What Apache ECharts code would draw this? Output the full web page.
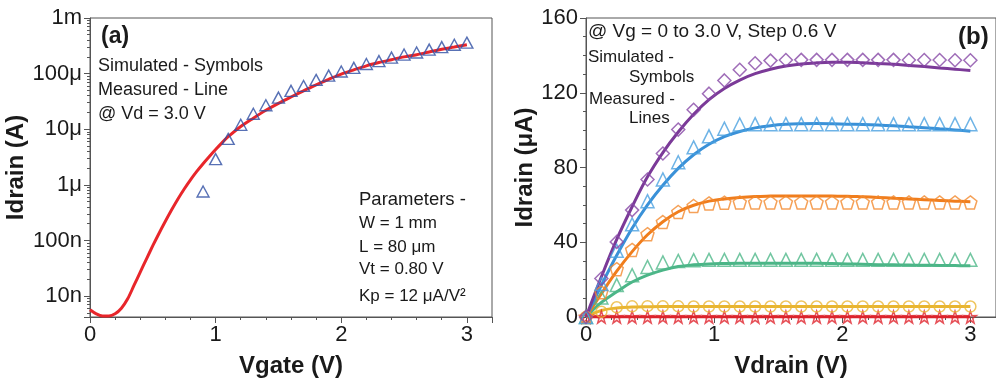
<!DOCTYPE html>
<html>
<head>
<meta charset="utf-8">
<title>Idrain characteristics</title>
<script src="https://cdn.jsdelivr.net/npm/echarts@6/dist/echarts.min.js"></script>
<style>
  html, body { margin: 0; padding: 0; background: #fff; }
  #chart { width: 996px; height: 383px; }
</style>
</head>
<body>
<div id="chart"></div>
<script>
// ---- (a) transfer curve, Vd = 3.0 V ----
const vgateMeasured = [0, 0.05, 0.1, 0.15, 0.2, 0.25, 0.3, 0.35, 0.4, 0.45, 0.5, 0.55, 0.6, 0.65, 0.7,
  0.75, 0.8, 0.85, 0.9, 0.95, 1.0, 1.05, 1.1, 1.2, 1.3, 1.4, 1.5, 1.6, 1.7, 1.8, 1.9, 2.0, 2.1, 2.2, 2.3,
  2.4, 2.5, 2.6, 2.7, 2.8, 2.9, 3.0];
const idrainMeasured = [5.69e-9, 4.79e-9, 4.37e-9, 4.37e-9, 4.79e-9, 6.03e-9, 8.91e-9, 1.55e-8, 2.69e-8,
  4.68e-8, 8.04e-8, 1.35e-7, 2.21e-7, 3.55e-7, 5.56e-7, 8.41e-7, 1.23e-6, 1.74e-6, 2.40e-6, 3.24e-6,
  4.32e-6, 5.69e-6, 7.33e-6, 1.12e-5, 1.58e-5, 2.19e-5, 2.92e-5, 3.8e-5, 4.9e-5, 6.3e-5, 7.9e-5, 9.8e-5,
  1.17e-4, 1.38e-4, 1.58e-4, 1.78e-4, 2.0e-4, 2.19e-4, 2.45e-4, 2.75e-4, 3.0e-4, 3.3e-4];
const vgateSimulated = [0.9, 1.0, 1.1, 1.2, 1.3, 1.4, 1.5, 1.6, 1.7, 1.8, 1.9, 2.0, 2.1, 2.2, 2.3, 2.4,
  2.5, 2.6, 2.7, 2.8, 2.9, 3.0];
const idrainSimulated = [7.6e-7, 2.9e-6, 6.7e-6, 1.2e-5, 1.9e-5, 2.7e-5, 3.7e-5, 4.9e-5, 6.0e-5, 7.7e-5,
  9.2e-5, 1.09e-4, 1.27e-4, 1.49e-4, 1.68e-4, 1.94e-4, 2.2e-4, 2.4e-4, 2.7e-4, 3.0e-4, 3.3e-4, 3.6e-4];
const decadeExponents = [-8, -7, -6, -5, -4, -3];
const decadeLabels = ['10n', '100n', '1μ', '10μ', '100μ', '1m'];

// ---- (b) output curves, Vg = 0 to 3.0 V in 0.6 V steps ----
const vdrain = [0, 0.12, 0.24, 0.36, 0.48, 0.6, 0.72, 0.84, 0.96, 1.08, 1.2, 1.32, 1.44, 1.56, 1.68,
  1.8, 1.92, 2.04, 2.16, 2.28, 2.4, 2.52, 2.64, 2.76, 2.88, 3.0];

const simVg00 = [0, 0, 0, 0, 0, 0, 0, 0, 0, 0, 0, 0, 0, 0, 0, 0, 0, 0, 0, 0, 0, 0, 0, 0, 0, 0];
const measVg00 = [0, 0, 0, 0, 0, 0, 0, 0, 0, 0, 0, 0, 0, 0, 0, 0, 0, 0, 0, 0, 0, 0, 0, 0, 0, 0];
const simVg06 = [0, 2.8, 5.2, 5.7, 5.8, 5.7, 5.7, 5.6, 5.6, 5.6, 5.6, 5.6, 5.6, 5.6, 5.6, 5.6, 5.6, 5.6,
  5.6, 5.6, 5.6, 5.6, 5.6, 5.6, 5.6, 5.6];
const measVg06 = [0, 3.5, 4.8, 5.3, 5.5, 5.6, 5.6, 5.6, 5.6, 5.6, 5.6, 5.6, 5.6, 5.6, 5.6, 5.6, 5.6, 5.6,
  5.6, 5.6, 5.6, 5.6, 5.6, 5.6, 5.6, 5.6];
const simVg12 = [0, 10.5, 17.1, 22.4, 26.8, 29.2, 30.0, 30.4, 30.6, 30.6, 30.6, 30.6, 30.6, 30.6, 30.6,
  30.6, 30.6, 30.6, 30.6, 30.6, 30.6, 30.6, 30.6, 30.6, 30.6, 30.6];
const measVg12 = [0, 7.8, 13.5, 18.7, 22.4, 25.1, 27.0, 27.9, 28.4, 28.6, 28.7, 28.7, 28.7, 28.7, 28.7,
  28.7, 28.6, 28.4, 28.2, 28.0, 27.9, 27.8, 27.7, 27.6, 27.5, 27.4];
const simVg18 = [0, 13.2, 25.6, 35.9, 44.3, 50.8, 56.2, 59.4, 60.8, 61.2, 61.3, 61.3, 61.3, 61.3, 61.3,
  61.3, 61.3, 61.3, 61.3, 61.3, 61.3, 61.3, 61.3, 61.3, 61.3, 61.3];
const measVg18 = [0, 12.5, 24.5, 35.0, 44.0, 51.0, 56.3, 59.8, 62.0, 63.2, 64.0, 64.5, 64.7, 64.8, 64.8,
  64.8, 64.7, 64.6, 64.3, 64.0, 63.6, 63.2, 62.8, 62.4, 62.0, 61.7];
const simVg24 = [0, 17.6, 35.4, 49.6, 62.0, 73.6, 82.8, 90.8, 96.7, 100.8, 103.0, 103.2, 103.2, 103.2,
  103.2, 103.2, 103.2, 103.2, 103.2, 103.2, 103.2, 103.2, 103.2, 103.2, 103.2, 103.2];
const measVg24 = [0, 17.0, 33.0, 47.5, 60.0, 70.5, 79.5, 86.8, 92.4, 96.5, 99.3, 101.2, 102.4, 103.1,
  103.4, 103.5, 103.4, 103.2, 103.0, 102.7, 102.3, 101.8, 101.3, 100.7, 100.1, 99.4];
const simVg30 = [0, 20.6, 40.2, 57.2, 73.6, 87.5, 100.3, 110.9, 119.5, 126.6, 132.3, 135.8, 137.2, 137.5,
  137.6, 137.6, 137.6, 137.6, 137.6, 137.6, 137.6, 137.5, 137.5, 137.5, 137.4, 137.4];
const measVg30 = [0, 21.5, 41.5, 59.0, 75.0, 88.0, 99.0, 108.5, 116.3, 122.3, 126.8, 130.2, 132.6, 134.3,
  135.4, 136.0, 136.3, 136.3, 136.0, 135.6, 135.2, 134.6, 134.0, 133.3, 132.6, 131.9];

// ---- styling ----
const FONT = "'Liberation Sans', Arial, Helvetica, sans-serif";
const AXIS_COLOR = '#555';
const TEXT_COLOR = '#1a1a1a';

const STAR = 'path://M50 0 L61.8 35.5 L97.6 34.5 L69 56.5 L79.4 90.5 L50 70 L20.6 90.5 L31 56.5 L2.4 34.5 L38.2 35.5 Z';
const PENTAGON = 'path://M50 2 L97.5 36.5 L79.4 92.4 L20.6 92.4 L2.5 36.5 Z';

const outputCurves = [
  { sim: simVg00, meas: measVg00, line: '#d9232b', mark: '#e0262e', symbol: STAR, size: 12 },
  { sim: simVg06, meas: measVg06, line: '#e8b530', mark: '#ebb737', symbol: 'circle', size: 11 },
  { sim: simVg12, meas: measVg12, line: '#4bb587', mark: '#4fb88a', symbol: 'triangle', size: 13 },
  { sim: simVg18, meas: measVg18, line: '#f07d1c', mark: '#f28a2e', symbol: PENTAGON, size: 13 },
  { sim: simVg24, meas: measVg24, line: '#3a91d8', mark: '#4aa0e0', symbol: 'triangle', size: 13 },
  { sim: simVg30, meas: measVg30, line: '#7b3a98', mark: '#8748a6', symbol: 'diamond', size: 13 }
];

const zip = (xs, ys) => xs.map((x, i) => [x, ys[i]]);

function xAxisFor(gridIndex, name) {
  return {
    gridIndex: gridIndex, type: 'value', min: 0, max: 3.2, interval: 1,
    name: name, nameLocation: 'middle', nameGap: 37,
    nameTextStyle: { fontFamily: FONT, fontSize: 24, fontWeight: 'bold', color: TEXT_COLOR },
    axisLine: { show: true, onZero: false, lineStyle: { color: AXIS_COLOR, width: 1 } },
    axisTick: { show: true, length: 6, lineStyle: { color: AXIS_COLOR } },
    minorTick: { show: true, splitNumber: 5, length: 3, lineStyle: { color: AXIS_COLOR } },
    splitLine: { show: false },
    axisLabel: {
      fontFamily: FONT, fontSize: 22, color: TEXT_COLOR, margin: 7,
      showMaxLabel: false,
      formatter: v => (Math.abs(v - Math.round(v)) < 1e-6 ? String(Math.round(v)) : '')
    }
  };
}

const series = [];

// (a) measured line and simulated symbols
series.push({
  type: 'line', xAxisIndex: 0, yAxisIndex: 0, data: zip(vgateMeasured, idrainMeasured),
  smooth: 0.3, showSymbol: false, lineStyle: { color: '#e8262b', width: 3 }, z: 2
});
series.push({
  type: 'scatter', xAxisIndex: 0, yAxisIndex: 0, data: zip(vgateSimulated, idrainSimulated),
  symbol: 'triangle', symbolSize: [12, 11],
  itemStyle: { color: 'rgba(0,0,0,0)', borderColor: '#2e4ea3', borderWidth: 1.4 }, z: 3
});

// (b) measured lines then simulated symbols
outputCurves.forEach(c => {
  series.push({
    type: 'line', xAxisIndex: 1, yAxisIndex: 1, data: zip(vdrain, c.meas),
    smooth: 0.4, showSymbol: false, lineStyle: { color: c.line, width: 3 }, z: 2
  });
});
outputCurves.forEach(c => {
  series.push({
    type: 'scatter', xAxisIndex: 1, yAxisIndex: 1, data: zip(vdrain, c.sim),
    symbol: c.symbol, symbolSize: c.size,
    itemStyle: { color: 'rgba(0,0,0,0)', borderColor: c.mark, borderWidth: 1.5 }, z: 3
  });
});

function label(text, x, y, size, bold) {
  return {
    type: 'text', x: x, y: y, z: 10,
    style: {
      text: text, fill: TEXT_COLOR, fontFamily: FONT, fontSize: size,
      fontWeight: bold ? 'bold' : 'normal', verticalAlign: 'middle', align: 'left'
    }
  };
}

const option = {
  animation: false,
  backgroundColor: '#ffffff',
  grid: [
    { left: 90, top: 18, width: 402, height: 300, show: true, borderColor: AXIS_COLOR, borderWidth: 1 },
    { left: 586, top: 18, width: 413, height: 300, show: true, borderColor: AXIS_COLOR, borderWidth: 1 }
  ],
  xAxis: [xAxisFor(0, 'Vgate (V)'), xAxisFor(1, 'Vdrain (V)')],
  yAxis: [
    {
      gridIndex: 0, type: 'log', logBase: 10, min: 4.2e-9, max: 1e-3,
      name: 'Idrain (A)', nameLocation: 'middle', nameGap: 46, nameRotate: 90,
      nameTextStyle: { fontFamily: FONT, fontSize: 24, fontWeight: 'bold', color: TEXT_COLOR },
      axisLine: { show: true, lineStyle: { color: AXIS_COLOR, width: 1 } },
      axisTick: { show: true, length: 6, lineStyle: { color: AXIS_COLOR } },
      minorTick: { show: true, splitNumber: 9, length: 3, lineStyle: { color: AXIS_COLOR } },
      splitLine: { show: false },
      axisLabel: {
        fontFamily: FONT, fontSize: 22, color: TEXT_COLOR, margin: 8, showMinLabel: false,
        formatter: v => {
          const e = Math.log10(v);
          const k = Math.round(e);
          if (Math.abs(e - k) > 0.01) return '';
          const idx = decadeExponents.indexOf(k);
          return idx >= 0 ? decadeLabels[idx] : '';
        }
      }
    },
    {
      gridIndex: 1, type: 'value', min: 0, max: 160, interval: 40,
      name: 'Idrain (μA)', nameLocation: 'middle', nameGap: 40, nameRotate: 90,
      nameTextStyle: { fontFamily: FONT, fontSize: 24, fontWeight: 'bold', color: TEXT_COLOR },
      axisLine: { show: true, lineStyle: { color: AXIS_COLOR, width: 1 } },
      axisTick: { show: true, length: 6, lineStyle: { color: AXIS_COLOR } },
      minorTick: { show: true, splitNumber: 4, length: 3, lineStyle: { color: AXIS_COLOR } },
      splitLine: { show: false },
      axisLabel: { fontFamily: FONT, fontSize: 22, color: TEXT_COLOR, margin: 8 }
    }
  ],
  series: series,
  graphic: [
    label('(a)', 101, 37, 23, true),
    label('Simulated - Symbols', 98, 66, 18),
    label('Measured - Line', 98, 90, 18),
    label('@ Vd = 3.0 V', 98, 114, 18),
    label('Parameters -', 359, 200, 18.5),
    label('W = 1 mm', 359, 223, 17),
    label('L = 80 μm', 359, 247, 17),
    label('Vt = 0.80 V', 359, 269, 17),
    label('Kp = 12 μA/V²', 359, 296, 17),
    label('@ Vg = 0 to 3.0 V, Step 0.6 V', 588, 32, 19),
    label('Simulated -', 588, 57, 17),
    label('Symbols', 629, 77, 17),
    label('Measured -', 589, 99, 17),
    label('Lines', 629, 118, 17),
    label('(b)', 958, 37, 24, true)
  ]
};

const chart = echarts.init(document.getElementById('chart'), null, { renderer: 'canvas' });
chart.setOption(option);
</script>
</body>
</html>
